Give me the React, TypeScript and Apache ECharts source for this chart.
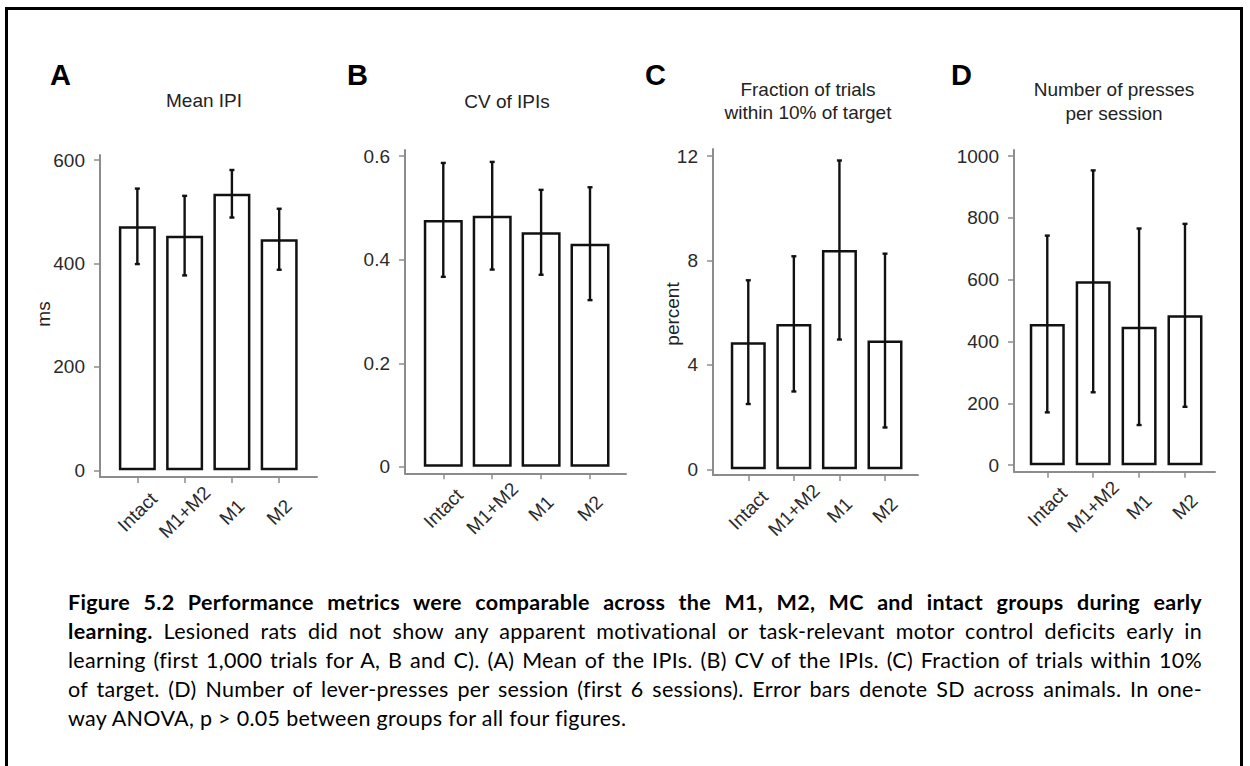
import React, { useEffect, useRef } from "react";
import * as echarts from "echarts";

// ---------- data ----------
const groups = ["Intact", "M1+M2", "M1", "M2"];

const meanIPI = [472, 454, 535, 447];
const sdIPI = [73, 77, 46, 59];

const cvIPI = [0.477, 0.485, 0.453, 0.431];
const sdCV = [0.11, 0.104, 0.082, 0.109];

const fracWithin = [4.87, 5.57, 8.4, 4.93];
const sdFrac = [2.37, 2.59, 3.43, 3.33];

const presses = [457, 595, 448, 485];
const sdPresses = [286, 359, 318, 296];

const ticksA = [0, 200, 400, 600];
const ticksB = [0, 0.2, 0.4, 0.6];
const ticksC = [0, 4, 8, 12];
const ticksD = [0, 200, 400, 600, 800, 1000];

const panelLetters = ["A", "B", "C", "D"];
const panelTitles = [
  ["Mean IPI"],
  ["CV of IPIs"],
  ["Fraction of trials", "within 10% of target"],
  ["Number of presses", "per session"],
];
const yNames = ["ms", "", "percent", ""];

const captionLines = [
  [{ b: true, t: "Figure 5.2 Performance metrics were comparable across the M1, M2, MC and intact groups during early" }],
  [
    { b: true, t: "learning." },
    { b: false, t: " Lesioned rats did not show any apparent motivational or task-relevant motor control deficits early in" },
  ],
  [{ b: false, t: "learning (first 1,000 trials for A, B and C). (A) Mean of the IPIs. (B) CV of the IPIs. (C) Fraction of trials within 10%" }],
  [{ b: false, t: "of target. (D) Number of lever-presses per session (first 6 sessions). Error bars denote SD across animals. In one-" }],
  [{ b: false, t: "way ANOVA, p > 0.05 between groups for all four figures." }],
];

// ---------- layout ----------
const FONT = "'Liberation Sans', Arial, sans-serif";
const panels = [
  { means: meanIPI, sds: sdIPI, ticks: ticksA, left: 100, width: 217, top: 155, height: 322, xMin: -0.79, xMax: 3.8, yMin: -13, yMax: 610, barW: 37, letterX: 50, titleX: 204, titleY: [100], nameX: 43 },
  { means: cvIPI, sds: sdCV, ticks: ticksB, left: 405, width: 221, top: 150, height: 323.3, xMin: -0.783, xMax: 3.736, yMin: -0.0125, yMax: 0.612, barW: 39, letterX: 347, titleX: 507, titleY: [101], nameX: 0 },
  { means: fracWithin, sds: sdFrac, ticks: ticksC, left: 713, width: 205, top: 149, height: 326, xMin: -0.774, xMax: 3.724, yMin: -0.22, yMax: 12.27, barW: 35, letterX: 645, titleX: 808, titleY: [89, 112.5], nameX: 672 },
  { means: presses, sds: sdPresses, ticks: ticksD, left: 1014, width: 201, top: 150, height: 321.7, xMin: -0.725, xMax: 3.654, yMin: -21, yMax: 1020, barW: 35, letterX: 951, titleX: 1114, titleY: [89, 113], nameX: 0 },
];

const AXIS_COLOR = "#8c8c8c";
const LABEL_COLOR = "#2a2a2a";
const INK = "#111";

function errorBarRenderer(params: any, api: any) {
  const x = api.value(0);
  const lo = api.value(1);
  const hi = api.value(2);
  const pHi = api.coord([x, hi]);
  const pLo = api.coord([x, lo]);
  const cap = 2.5;
  const style = { stroke: INK, lineWidth: 2.4 };
  return {
    type: "group",
    children: [
      { type: "line", shape: { x1: pHi[0], y1: pHi[1], x2: pLo[0], y2: pLo[1] }, style },
      { type: "line", shape: { x1: pHi[0] - cap, y1: pHi[1], x2: pHi[0] + cap, y2: pHi[1] }, style },
      { type: "line", shape: { x1: pLo[0] - cap, y1: pLo[1], x2: pLo[0] + cap, y2: pLo[1] }, style },
    ],
  };
}

function buildOption() {
  const grid: any[] = [];
  const xAxis: any[] = [];
  const yAxis: any[] = [];
  const series: any[] = [];
  const graphic: any[] = [];
  const catIdx = groups.map((_, i) => i);

  panels.forEach((p, i) => {
    grid.push({ left: p.left, top: p.top, width: p.width, height: p.height, containLabel: false, outerBoundsMode: "none" });
    xAxis.push({
      type: "value",
      gridIndex: i,
      min: p.xMin,
      max: p.xMax,
      splitLine: { show: false },
      axisLine: { show: true, onZero: false, lineStyle: { color: AXIS_COLOR, width: 2 } },
      axisTick: { show: true, length: 6, customValues: catIdx, lineStyle: { color: AXIS_COLOR, width: 1.5 } },
      axisLabel: {
        customValues: catIdx,
        rotate: 45,
        align: "center",
        verticalAlign: "middle",
        margin: 35,
        fontSize: 19,
        fontFamily: FONT,
        color: LABEL_COLOR,
        formatter: (v: number) => groups[Math.round(v)] ?? "",
      },
    });
    yAxis.push({
      type: "value",
      gridIndex: i,
      min: p.yMin,
      max: p.yMax,
      splitLine: { show: false },
      axisLine: { show: true, onZero: false, lineStyle: { color: AXIS_COLOR, width: 2 } },
      axisTick: { show: true, length: 6, customValues: p.ticks, lineStyle: { color: AXIS_COLOR, width: 1.5 } },
      axisLabel: {
        customValues: p.ticks,
        margin: 15,
        fontSize: 19,
        fontFamily: FONT,
        color: LABEL_COLOR,
        formatter: (v: number) => String(v),
      },
    });
    series.push({
      type: "bar",
      xAxisIndex: i,
      yAxisIndex: i,
      barWidth: p.barW,
      silent: true,
      itemStyle: { color: "#ffffff", borderColor: INK, borderWidth: 2.5 },
      data: p.means.map((m, j) => [j, m]),
      z: 2,
    });
    series.push({
      type: "custom",
      xAxisIndex: i,
      yAxisIndex: i,
      silent: true,
      renderItem: errorBarRenderer,
      data: p.means.map((m, j) => [j, m - p.sds[j], m + p.sds[j]]),
      z: 3,
    });

    graphic.push({
      type: "text",
      x: p.letterX,
      y: 75,
      style: { text: panelLetters[i], fontSize: 29, fontWeight: "bold", fontFamily: FONT, fill: "#000", align: "left", verticalAlign: "middle" },
    });
    panelTitles[i].forEach((line, k) => {
      graphic.push({
        type: "text",
        x: p.titleX,
        y: p.titleY[k],
        style: { text: line, fontSize: 19, fontFamily: FONT, fill: "#222", align: "center", verticalAlign: "middle" },
      });
    });
    if (yNames[i]) {
      graphic.push({
        type: "text",
        x: p.nameX,
        y: 314,
        rotation: Math.PI / 2,
        style: { text: yNames[i], fontSize: 19, fontFamily: FONT, fill: "#222", align: "center", verticalAlign: "middle" },
      });
    }
  });

  return { animation: false, grid, xAxis, yAxis, series, graphic };
}

export default function App() {
  const ref = useRef<HTMLDivElement>(null);
  useEffect(() => {
    if (!ref.current) return;
    const chart = echarts.init(ref.current, undefined, { renderer: "svg", width: 1250, height: 766 });
    chart.setOption(buildOption() as any);
    return () => chart.dispose();
  }, []);

  return (
    <div style={{ position: "absolute", left: 0, top: 0, width: 1250, height: 766, overflow: "hidden", background: "#fff" }}>
      <div
        style={{
          position: "absolute",
          left: 5,
          top: 7,
          width: 1232,
          height: 820,
          border: "3px solid #000",
          boxSizing: "content-box",
        }}
      />
      <div ref={ref} style={{ position: "absolute", left: 0, top: 0, width: 1250, height: 766 }} />
      <div
        style={{
          position: "absolute",
          left: 68,
          top: 588,
          width: 1134,
          fontFamily: "Lato, 'Open Sans', sans-serif",
          fontSize: 21.5,
          letterSpacing: "0.3px",
          lineHeight: "29px",
          color: "#000",
        }}
      >
        {captionLines.map((parts, li) => (
          <div
            key={li}
            style={{
              whiteSpace: "nowrap",
              textAlign: li < captionLines.length - 1 ? "justify" : "left",
              textAlignLast: li < captionLines.length - 1 ? "justify" : "left",
            }}
          >
            {parts.map((pt, k) => (
              <span key={k} style={{ fontWeight: pt.b ? 700 : 400 }}>
                {pt.t}
              </span>
            ))}
          </div>
        ))}
      </div>
    </div>
  );
}
